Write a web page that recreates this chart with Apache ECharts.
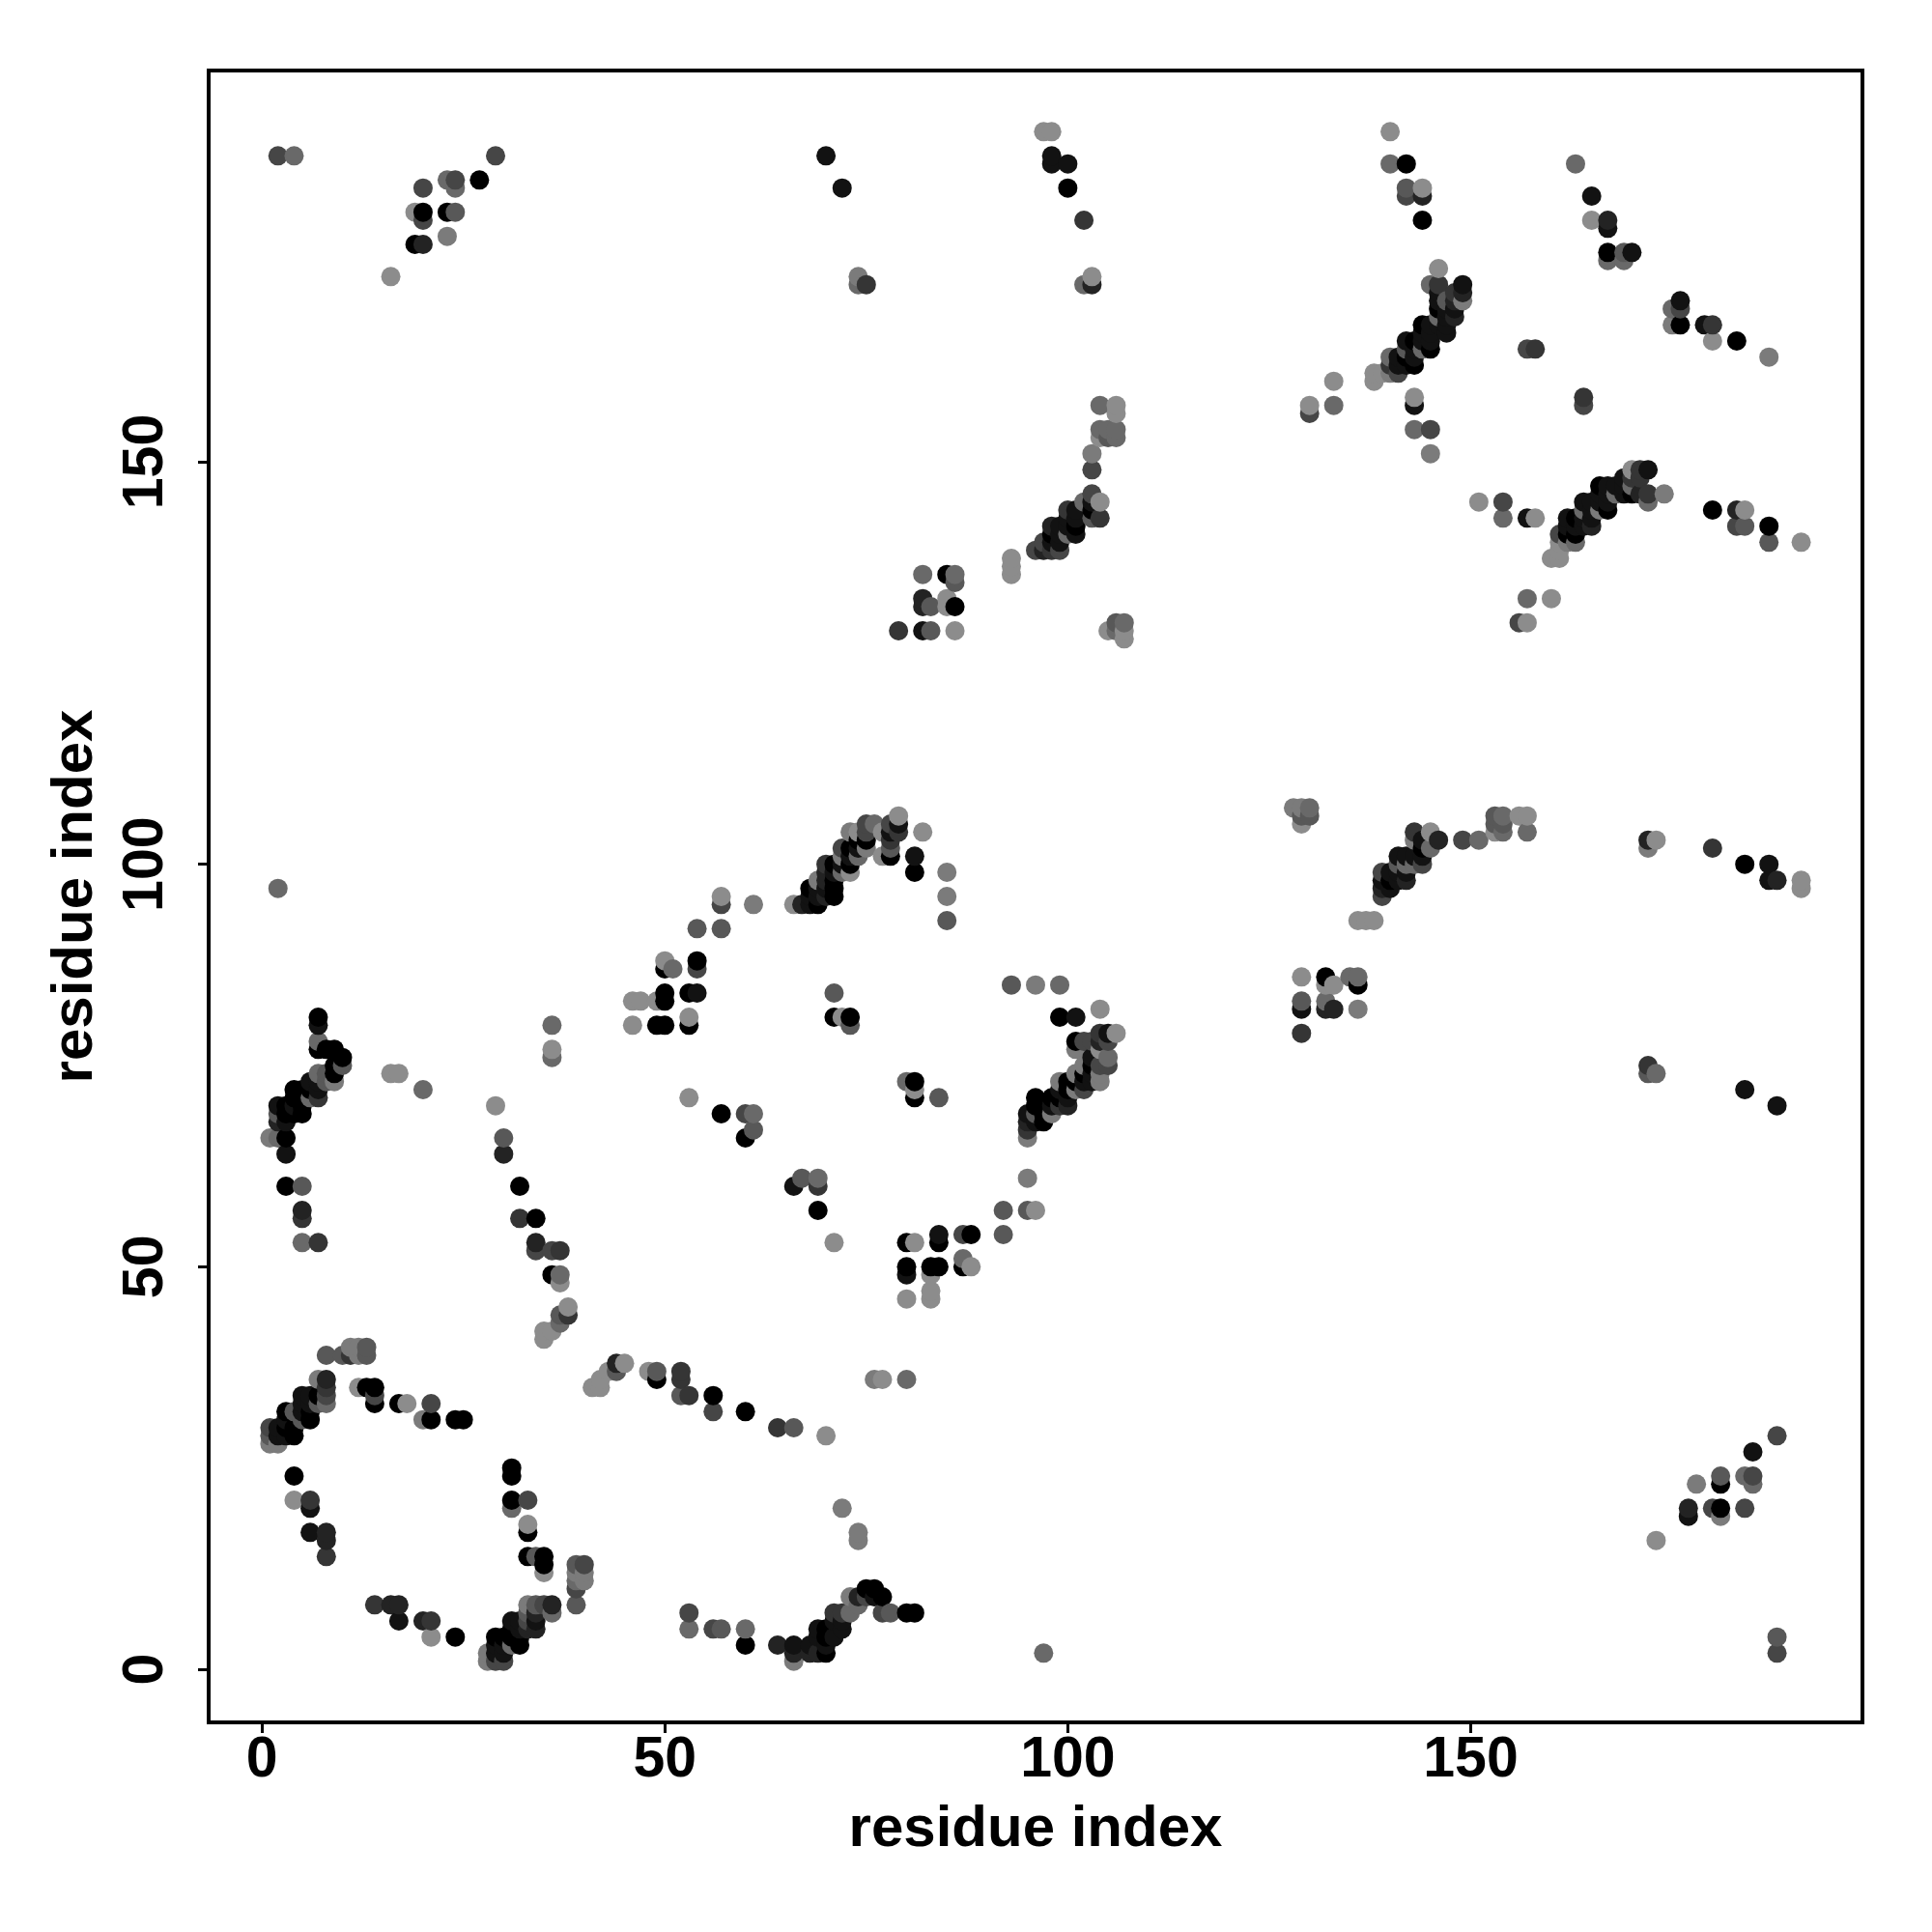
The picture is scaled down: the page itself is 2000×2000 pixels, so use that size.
<!DOCTYPE html>
<html><head><meta charset="utf-8">
<style>html,body{margin:0;padding:0;background:#fff}#c{width:2000px;height:2000px}</style>
<script src="https://cdn.jsdelivr.net/npm/echarts@6/dist/echarts.min.js"></script>
</head><body><div id="c"></div>
<script>
// every contact is [residue x, residue y, shade 0 (black) .. 8 (lightest grey)]
const tickValues=[0,50,100,150];
const loopLowLeft=[[1,30,4],[1,29,5],[1,28,7],[2,28,7],[2,30,1],[2,29,1],[3,32,0],[3,31,1],[3,30,0],[3,29,1],[4,29,0],[4,30,0],[4,32,5],[5,34,1],[5,33,1],[5,32,1],[5,31,5],[6,34,1],[6,33,1],[6,32,0],[6,31,0],[7,36,7],[7,34,0],[7,33,5],[8,36,2],[8,35,3],[8,34,4],[8,33,6],[8,39,5],[10,39,5],[11,40,7],[11,39,3],[12,40,7],[12,39,7],[13,40,5],[13,39,5],[12,35,8],[13,35,0],[14,35,0],[14,34,4],[14,33,0],[17,33,0],[18,33,8],[21,33,4],[20,31,7],[21,31,0],[24,31,0],[25,31,0],[4,24,0],[4,21,8],[6,21,3],[6,20,1],[6,17,1],[8,17,2],[8,16,2],[8,14,3]];
const loopBase=[[14,8,3],[16,8,2],[17,8,2],[17,6,1],[20,6,2],[21,6,3],[21,4,8],[24,4,0],[28,2,7],[28,1,7],[29,4,0],[29,3,1],[29,2,1],[29,1,4],[30,4,0],[30,3,1],[30,2,1],[30,1,4],[31,6,1],[31,5,0],[31,4,0],[31,3,6],[32,6,1],[32,5,1],[32,4,0],[32,3,0],[33,8,7],[33,7,5],[33,6,4],[33,5,2],[34,8,5],[34,7,2],[34,6,1],[34,5,2],[35,8,4],[36,8,2],[36,7,6],[31,25,0],[31,24,0],[31,21,0],[31,20,6],[33,21,4],[33,18,8],[33,17,0],[33,14,0],[34,14,5],[35,14,0],[35,13,0],[35,12,8],[39,13,5],[40,13,4],[39,12,7],[40,12,7],[40,11,7],[39,11,6],[39,10,4],[39,8,5]];
const stripLowMid=[[35,41,8],[35,42,8],[36,42,8],[37,43,6],[37,44,5],[38,44,3],[38,45,8],[36,49,0],[37,49,6],[37,48,8],[41,35,8],[42,35,8],[42,36,8],[43,37,8],[44,37,5],[44,38,2],[45,38,8],[48,37,8],[49,37,5],[49,36,0],[52,37,3],[52,36,3],[52,34,5],[53,34,3],[56,34,0],[56,32,4],[60,32,0],[64,30,3],[66,30,5],[70,29,8],[72,20,7],[74,17,7],[74,16,7],[76,36,7],[77,36,8],[80,36,6]];
const hairpinBase=[[53,7,4],[53,5,6],[56,5,4],[57,5,5],[60,5,6],[60,3,0],[64,3,2],[66,3,1],[66,2,2],[66,1,7],[68,2,2],[69,2,2],[70,2,0],[68,3,1],[69,5,1],[69,4,1],[70,5,0],[70,4,0],[70,3,1],[71,7,3],[71,6,1],[71,4,1],[72,7,3],[72,6,1],[72,5,1],[73,9,7],[73,7,6],[74,9,2],[74,8,6],[75,10,0],[75,9,4],[76,10,0],[76,9,1],[77,9,0],[77,7,4],[78,7,5],[80,7,0],[81,7,0],[97,2,6],[188,4,5],[188,2,4]];
const stemLeft=[[1,66,7],[2,66,6],[3,66,0],[3,64,1],[3,60,0],[5,60,5],[5,57,2],[5,56,3],[5,53,6],[7,53,3],[2,70,1],[2,69,5],[2,68,2],[3,68,1],[3,69,0],[3,70,0],[4,72,0],[4,71,0],[4,70,1],[4,69,0],[5,72,0],[5,70,0],[5,69,0],[6,73,1],[6,72,0],[6,71,6],[7,74,6],[7,73,1],[7,72,1],[7,71,3],[8,74,5],[8,73,5],[9,73,7],[9,74,0],[9,75,0],[9,77,0],[8,77,0],[7,77,0],[7,78,6],[7,80,1],[7,81,0],[10,76,0],[10,75,5],[16,74,8],[17,74,8],[20,72,6],[2,97,6]];
const stemMiddle=[[29,70,8],[30,66,5],[30,64,2],[32,60,0],[32,56,3],[34,56,0],[34,53,2],[34,52,4],[36,52,4],[37,52,3],[36,80,6],[36,77,8],[36,76,6],[53,71,8],[57,69,0],[60,69,4],[61,69,6],[61,67,5],[60,66,0],[66,60,1],[67,61,5],[69,61,6],[69,60,3],[69,57,0],[71,53,8],[71,84,5],[71,81,0],[72,81,8],[73,81,0],[73,80,5],[80,73,6],[81,73,0],[81,72,8],[81,71,0],[84,71,5]];
const shoulder=[[46,83,8],[47,83,8],[49,83,8],[50,84,0],[50,83,0],[46,80,8],[49,80,0],[50,80,0],[50,88,8],[50,87,0],[51,87,6],[53,84,0],[54,84,1],[54,88,0],[54,87,4],[53,81,8],[53,80,0],[54,92,5],[57,92,5],[57,96,8],[57,95,4],[61,95,7]];
const helixMidTop=[[66,95,8],[67,95,2],[68,95,1],[69,95,0],[68,97,0],[68,96,1],[69,98,7],[69,97,1],[69,96,1],[70,100,3],[70,99,2],[70,98,2],[70,97,1],[70,96,2],[71,100,0],[71,99,1],[71,98,0],[71,97,0],[71,96,0],[72,102,4],[72,101,7],[72,100,1],[72,99,6],[73,104,7],[73,102,0],[73,101,1],[73,100,0],[73,99,8],[74,104,8],[74,103,0],[74,102,1],[74,101,6],[75,105,4],[75,104,4],[75,103,0],[75,102,7],[76,105,6],[77,104,8],[77,101,8],[78,105,4],[78,104,1],[78,103,3],[78,102,5],[78,101,0],[79,106,8],[79,105,1],[79,104,3],[82,104,8],[81,101,1],[81,99,0],[85,99,7],[85,96,7],[85,93,5]];
const patchLow=[[80,53,0],[81,53,8],[84,54,1],[84,53,0],[87,54,4],[88,54,0],[87,51,6],[88,50,8],[87,50,0],[80,50,0],[80,49,1],[83,50,0],[84,50,0],[83,49,8],[83,47,8],[83,46,8],[80,46,8],[92,57,5],[92,54,5],[95,57,5],[96,57,8],[95,61,7],[93,85,5],[96,85,7],[99,85,6],[99,81,0],[101,81,1],[104,82,8]];
const helixMidRight=[[95,69,1],[95,68,2],[95,67,3],[95,66,7],[96,71,0],[96,70,0],[96,69,5],[96,68,1],[97,69,0],[97,68,0],[98,71,0],[98,70,1],[98,69,7],[99,73,7],[99,72,1],[99,71,0],[99,70,3],[100,73,0],[100,72,0],[100,71,1],[100,70,2],[101,78,0],[101,77,7],[101,74,7],[101,73,0],[101,72,7],[102,78,4],[102,75,7],[102,74,0],[102,73,1],[102,72,4],[103,78,4],[103,76,1],[103,75,0],[103,74,1],[103,73,1],[104,79,3],[104,78,2],[104,77,8],[104,75,4],[104,74,7],[104,73,7],[105,79,1],[105,78,4],[105,76,6],[105,75,4],[106,79,8]];
const topLeft=[[2,188,4],[4,188,6],[16,173,8],[19,181,8],[20,181,0],[20,180,4],[20,184,4],[19,177,0],[20,177,2],[23,178,7],[23,181,0],[24,181,5],[23,185,6],[24,185,4],[24,184,6],[27,185,0],[29,188,4],[70,188,1],[72,184,1],[74,173,7],[74,172,6],[75,172,3]];
const topMiddle=[[97,191,8],[98,191,8],[98,188,1],[98,187,1],[100,187,1],[100,184,0],[102,180,3],[102,172,6],[103,173,8],[103,172,2],[140,191,8],[140,187,6],[142,187,0],[142,184,5],[142,183,4],[144,184,8],[144,183,2],[144,180,0]];
const helixUpperLeft=[[104,157,6],[106,157,8],[106,156,8],[104,154,6],[105,154,6],[106,154,6],[104,153,8],[105,153,5],[106,153,6],[103,151,7],[103,149,4],[103,146,4],[104,145,8],[102,145,6],[103,145,1],[103,144,0],[104,143,3],[103,143,5],[100,144,3],[100,143,1],[101,144,1],[101,143,1],[101,142,0],[101,141,1],[100,142,1],[100,141,6],[98,142,2],[99,142,1],[98,141,0],[99,141,1],[99,140,1],[99,139,4],[98,140,1],[98,139,3],[97,140,4],[97,139,2],[96,139,4],[93,138,8],[93,137,8],[93,136,8],[82,136,6],[85,136,0],[86,136,6],[86,135,5],[82,133,2],[82,132,2],[83,132,5],[85,133,8],[85,132,8],[86,132,0],[79,129,3],[82,129,1],[83,129,5],[86,129,8],[105,129,8],[106,130,5],[107,130,6],[107,129,8],[107,128,8],[106,129,6]];
const helixUpperRight=[[146,174,8],[145,172,6],[146,172,3],[149,172,1],[149,171,2],[149,170,7],[148,171,3],[148,170,2],[148,169,1],[148,168,2],[146,171,1],[146,170,1],[146,169,0],[146,168,6],[146,167,1],[147,170,5],[147,169,1],[147,168,1],[147,167,1],[147,166,1],[144,167,0],[144,166,1],[144,165,1],[144,164,6],[145,167,1],[145,166,1],[145,165,1],[145,164,0],[142,165,1],[142,164,5],[142,163,0],[142,162,1],[143,165,0],[143,164,1],[143,163,1],[143,162,0],[141,163,1],[141,162,1],[141,161,4],[140,163,6],[140,162,3],[140,161,7],[139,161,8],[138,161,8],[138,160,8],[133,160,8],[130,157,8],[130,156,4],[133,157,6],[143,158,8],[143,157,1],[143,154,6],[145,154,4],[145,151,7],[157,164,4],[158,164,3],[164,158,3],[164,157,4]];
const helixFarRight=[[160,138,8],[161,138,8],[161,139,8],[161,140,8],[161,141,4],[162,143,1],[162,142,1],[162,141,0],[162,140,7],[163,143,0],[163,142,1],[163,141,0],[163,140,6],[164,145,1],[164,144,6],[164,143,1],[164,142,1],[165,145,1],[165,144,1],[165,143,1],[165,142,2],[166,147,0],[166,146,1],[166,145,1],[166,144,7],[167,147,1],[167,146,1],[167,145,1],[167,144,0],[168,147,1],[168,146,6],[169,148,1],[169,147,1],[169,146,1],[170,149,8],[170,148,3],[170,147,6],[170,146,0],[171,149,3],[171,148,3],[171,146,2],[172,149,1],[172,146,3],[172,145,6],[174,146,7],[151,145,8],[154,145,4],[154,143,6],[157,143,1],[158,143,8],[157,133,6],[160,133,8],[156,130,4],[157,130,8],[180,144,0],[183,144,2],[184,144,8],[183,142,4],[184,142,5],[187,142,0],[187,140,5],[191,140,8]];
const cornerTopRight=[[163,187,6],[165,183,1],[165,180,8],[167,180,2],[167,179,1],[167,176,0],[167,175,6],[169,176,5],[169,175,6],[170,176,1],[175,169,6],[176,170,1],[176,169,4],[175,167,7],[176,167,0],[179,167,1],[180,167,3],[180,165,8],[183,165,0],[187,163,7]];
const helixLowerRight=[[128,107,7],[129,107,7],[130,107,6],[130,106,5],[129,106,5],[129,105,8],[129,86,8],[129,83,5],[129,82,1],[129,79,3],[132,86,0],[132,85,8],[133,85,8],[132,83,6],[132,82,2],[133,82,2],[135,86,6],[136,86,6],[136,85,0],[136,82,7],[136,93,8],[137,93,8],[138,93,8],[139,99,4],[139,98,1],[139,97,2],[139,96,4],[140,99,1],[140,98,0],[140,97,1],[141,101,1],[141,100,5],[141,99,1],[141,98,1],[142,101,1],[142,100,6],[142,99,1],[142,98,2],[143,104,3],[143,103,7],[143,101,1],[143,100,6],[144,103,1],[144,102,0],[144,101,1],[144,100,4],[145,104,8],[145,102,6],[146,103,2],[149,103,4],[151,103,6],[153,104,8],[153,106,5],[153,105,5],[154,106,6],[154,105,5],[154,104,6],[156,106,8],[157,106,8],[157,104,6]];
const edgeRight=[[172,103,2],[172,102,7],[173,103,8],[180,102,3],[184,100,0],[187,100,1],[187,98,1],[188,98,2],[191,98,8],[191,97,8],[172,75,3],[172,74,5],[173,74,6],[184,72,1],[188,70,1],[188,29,4],[185,27,1],[181,24,5],[181,23,0],[178,23,7],[184,24,6],[185,24,4],[185,23,6],[177,20,2],[177,19,1],[180,20,4],[181,20,0],[181,19,7],[184,20,4],[173,16,8]];

const contacts=[loopLowLeft,loopBase,stripLowMid,hairpinBase,stemLeft,stemMiddle,shoulder,helixMidTop,patchLow,helixMidRight,topLeft,topMiddle,helixUpperLeft,helixUpperRight,helixFarRight,cornerTopRight,helixLowerRight,edgeRight].flat().sort((a,b)=>a[0]-b[0]||a[1]-b[1]);
const greyOf=s=>{const g=Math.round(s*17.5);return `rgb(${g},${g},${g})`};
const font='"Liberation Sans",Arial,sans-serif';
const axis=(rotate,margin,nameGap)=>({type:'value',min:-6.6,max:198.6,name:'residue index',nameLocation:'middle',nameGap,
  nameTextStyle:{fontFamily:font,fontWeight:'bold',fontSize:60,color:'#000'},
  axisLine:{show:false,onZero:false},splitLine:{show:false},
  axisTick:{show:true,length:11,inside:false,customValues:tickValues,lineStyle:{color:'#000',width:3}},
  axisLabel:{show:true,rotate,margin,fontFamily:font,fontWeight:'bold',fontSize:59,color:'#000',customValues:tickValues,formatter:v=>String(v)}});
const chart=echarts.init(document.getElementById('c'),null,{renderer:'canvas',width:2000,height:2000});
chart.setOption({animation:false,backgroundColor:'#fff',
  grid:{left:216,top:73,width:1712,height:1710,show:true,borderColor:'#000',borderWidth:4,backgroundColor:'transparent'},
  xAxis:axis(0,10,81),
  yAxis:axis(90,35,108),
  series:[{type:'scatter',symbol:'circle',symbolSize:20,large:false,progressive:0,
    data:contacts.map(c=>({value:[c[0],c[1]],itemStyle:{color:greyOf(c[2]),opacity:1}}))}]});
</script></body></html>
